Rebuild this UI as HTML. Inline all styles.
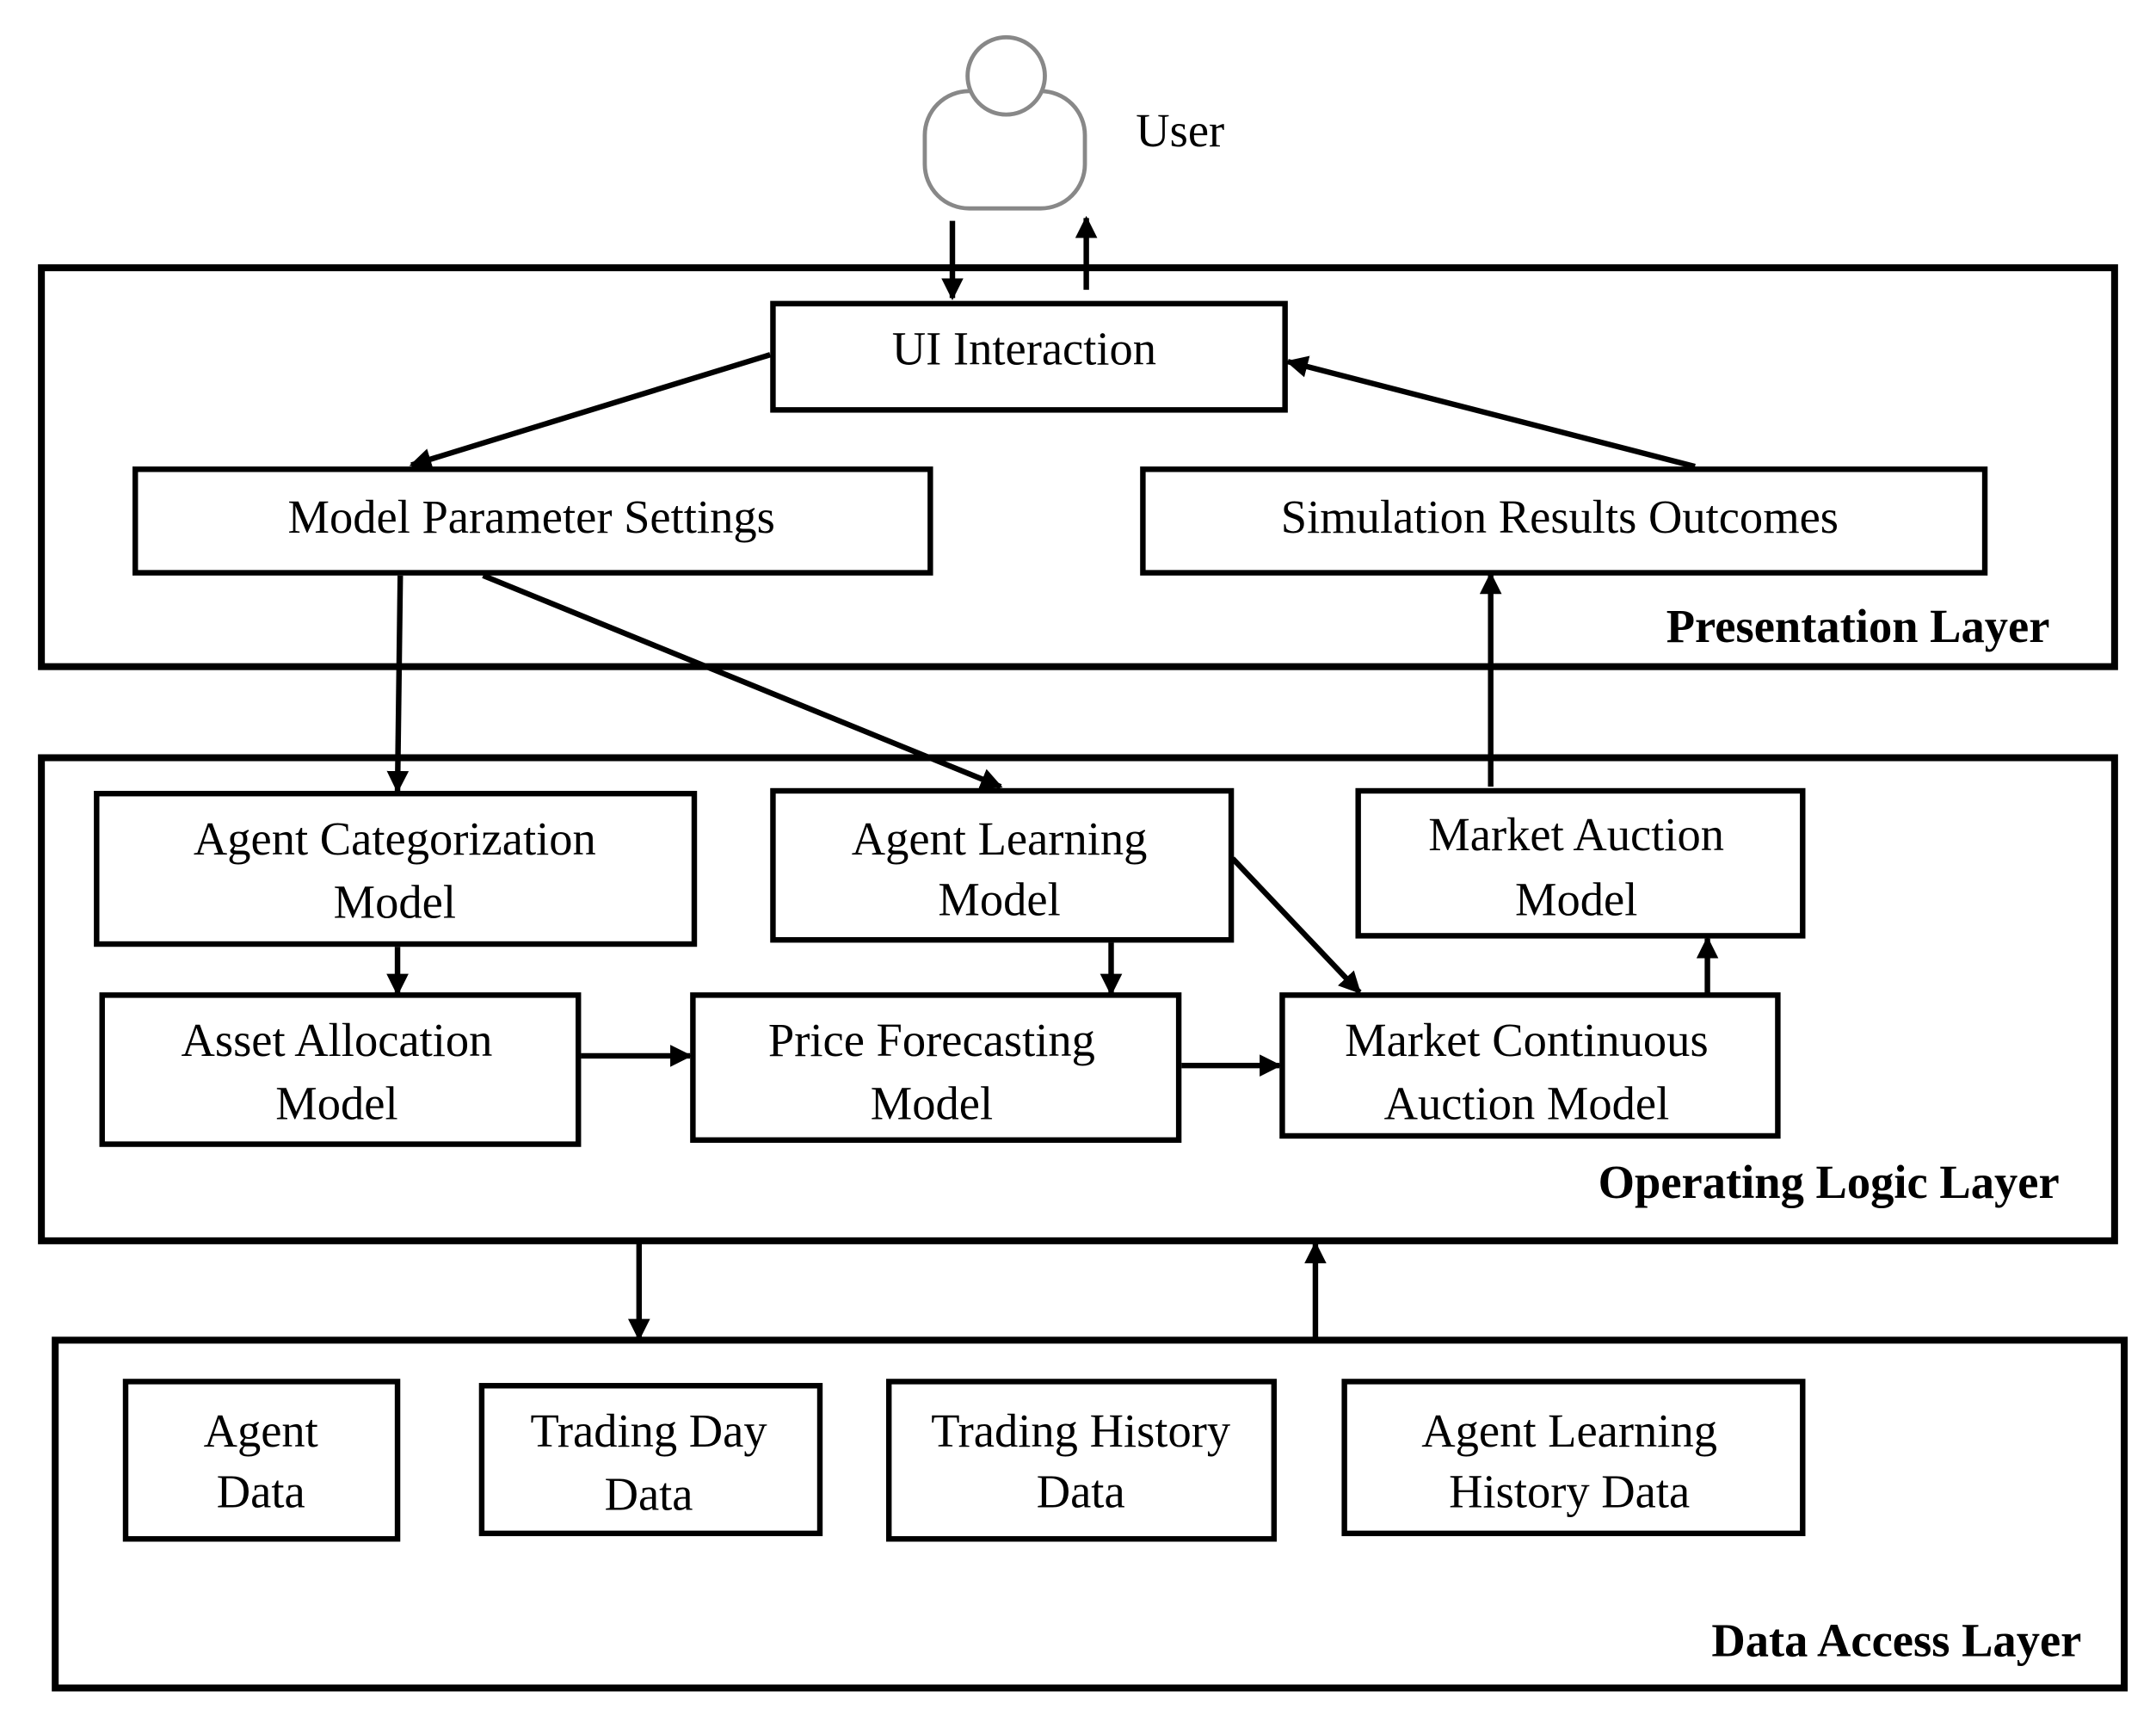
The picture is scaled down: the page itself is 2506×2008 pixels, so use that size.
<!DOCTYPE html>
<html><head><meta charset="utf-8"><style>html,body{margin:0;padding:0;background:#fff}svg{display:block}</style></head>
<body>
<svg width="2506" height="2008" viewBox="0 0 1562 1252" preserveAspectRatio="none" xmlns="http://www.w3.org/2000/svg">
<defs>
<marker id="a" viewBox="0 0 10 10" refX="9" refY="5" markerWidth="4" markerHeight="4" orient="auto" markerUnits="strokeWidth"><path d="M0,0 L10,5 L0,10 z" fill="#000"/></marker>
</defs>
<rect width="1562" height="1252" fill="#fff"/>
<g fill="none" stroke="#888" stroke-width="3">
<rect x="670" y="66" width="116" height="85" rx="32"/>
<circle cx="729" cy="55" r="28" fill="#fff"/>
</g>
<g font-family="Liberation Serif, serif" font-size="34" fill="#000" text-anchor="middle">
<text x="855" y="106">User</text>
</g>
<g fill="none" stroke="#000" stroke-width="5">
<rect x="30" y="194" width="1502" height="289"/>
<rect x="30" y="549" width="1502" height="350"/>
<rect x="40" y="971" width="1499" height="252"/>
</g>
<g fill="#fff" stroke="#000" stroke-width="4">
<rect x="560" y="220" width="371" height="77"/>
<rect x="98" y="340" width="576" height="75"/>
<rect x="828" y="340" width="610" height="75"/>
<rect x="70" y="575" width="433" height="109"/>
<rect x="560" y="573" width="332" height="108"/>
<rect x="984" y="573" width="322" height="105"/>
<rect x="74" y="721" width="345" height="108"/>
<rect x="502" y="721" width="352" height="105"/>
<rect x="929" y="721" width="359" height="102"/>
<rect x="91" y="1001" width="197" height="114"/>
<rect x="349" y="1004" width="245" height="107"/>
<rect x="644" y="1001" width="279" height="114"/>
<rect x="974" y="1001" width="332" height="110"/>
</g>
<g stroke="#000" stroke-width="4" marker-end="url(#a)">
<line x1="690" y1="160" x2="690" y2="216"/>
<line x1="787" y1="210" x2="787" y2="158"/>
<line x1="558" y1="257" x2="298" y2="337"/>
<line x1="1228" y1="338" x2="933" y2="262"/>
<line x1="290" y1="417" x2="288" y2="573"/>
<line x1="350" y1="417" x2="725" y2="570"/>
<line x1="1080" y1="570" x2="1080" y2="416"/>
<line x1="288" y1="686" x2="288" y2="720"/>
<line x1="805" y1="683" x2="805" y2="720"/>
<line x1="421" y1="765" x2="500" y2="765"/>
<line x1="856" y1="772" x2="927" y2="772"/>
<line x1="893" y1="622" x2="985" y2="719"/>
<line x1="1237" y1="720" x2="1237" y2="680"/>
<line x1="463" y1="901" x2="463" y2="970"/>
<line x1="953" y1="970" x2="953" y2="901"/>
</g>
<g font-family="Liberation Serif, serif" font-size="34" fill="#000" text-anchor="middle">
<text x="742" y="264">UI Interaction</text>
<text x="385" y="386">Model Parameter Settings</text>
<text x="1130" y="386">Simulation Results Outcomes</text>
<text x="286" y="619">Agent Categorization</text>
<text x="286" y="665">Model</text>
<text x="724" y="619">Agent Learning</text>
<text x="724" y="663">Model</text>
<text x="1142" y="616">Market Auction</text>
<text x="1142" y="663">Model</text>
<text x="244" y="765">Asset Allocation</text>
<text x="244" y="811">Model</text>
<text x="675" y="765">Price Forecasting</text>
<text x="675" y="811">Model</text>
<text x="1106" y="765">Market Continuous</text>
<text x="1106" y="811">Auction Model</text>
<text x="189" y="1048">Agent</text>
<text x="189" y="1092">Data</text>
<text x="470" y="1048">Trading Day</text>
<text x="470" y="1094">Data</text>
<text x="783" y="1048">Trading History</text>
<text x="783" y="1092">Data</text>
<text x="1137" y="1048">Agent Learning</text>
<text x="1137" y="1092">History Data</text>
</g>
<g font-family="Liberation Serif, serif" font-size="34" font-weight="bold" fill="#000" text-anchor="end">
<text x="1485" y="465">Presentation Layer</text>
<text x="1492" y="868">Operating Logic Layer</text>
<text x="1508" y="1200">Data Access Layer</text>
</g>
</svg>
</body></html>
